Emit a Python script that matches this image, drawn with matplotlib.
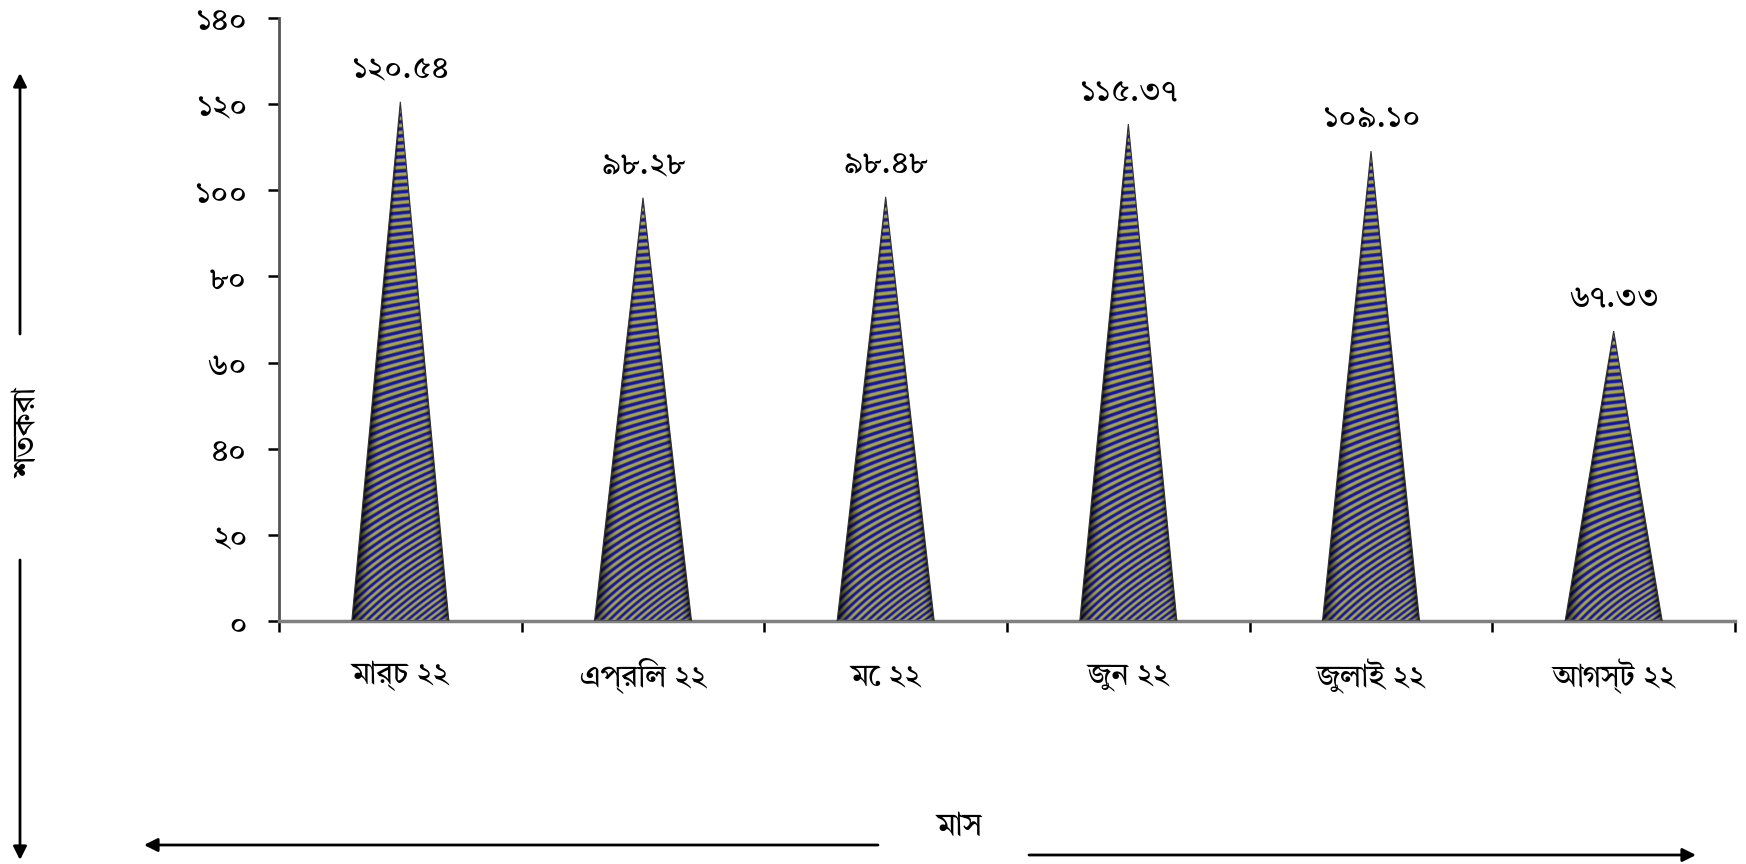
import numpy as np
import matplotlib
matplotlib.use("Agg")
from matplotlib import pyplot as plt
from matplotlib.patches import Polygon, FancyArrowPatch

months = ["মার্চ ২২", "এপ্রিল ২২", "মে ২২", "জুন ২২", "জুলাই ২২", "আগস্ট ২২"]
values = [120.54, 98.28, 98.48, 115.37, 109.10, 67.33]
value_labels = ["১২০.৫৪", "৯৮.২৮", "৯৮.৪৮", "১১৫.৩৭", "১০৯.১০", "৬৭.৩৩"]
y_ticks = [0, 20, 40, 60, 80, 100, 120, 140]
y_tick_labels = ["০", "২০", "৪০", "৬০", "৮০", "১০০", "১২০", "১৪০"]
y_title = "শতকরা"
x_title = "মাস"

W, H = 1746, 864
BLUE = np.array([0.08, 0.08, 0.66])
OLIVE = np.array([0.66, 0.66, 0.26])

plt.rcParams['font.family'] = ['Tiro Bangla', 'Noto Sans Bengali', 'DejaVu Sans']

fig = plt.figure(figsize=(W/100, H/100), dpi=100)
ax = fig.add_axes([279/W, 1-621/H, (1735-279)/W, (621-18)/H])

def cone_texture(value):
    # stripes wound round the cone: flat near the tip, diagonal near the base
    px_h = value*(621-18)/140
    half = 49.0
    ys, xs = np.mgrid[0:1:600j, -1:1:300j]
    h = ys*px_h
    local = half*(1-ys)
    dx = xs*half
    phase = h/7.0 - dx*0.115*((local/half)**2 + 0.08)
    mix = 0.5 + 0.5*np.sin(2*np.pi*phase)
    mix = np.clip((mix-0.5)*1.6+0.5, 0, 1)[..., None]
    rgb = mix*BLUE + (1-mix)*OLIVE
    u = np.clip(dx/np.maximum(local, 0.5), -1, 1)
    # left side falls off earlier than the right
    edge = np.where(u < 0, (np.abs(u)-0.62)/0.38, (np.abs(u)-0.78)/0.22)
    shade = 1 - 0.8*np.clip(edge, 0, 1)**2
    return np.clip(rgb*shade[..., None], 0, 1)

width = 0.2
for i, v in enumerate(values):
    tri = Polygon([(i-width, 0), (i, v), (i+width, 0)], closed=True, facecolor='none',
                  edgecolor='#333333', linewidth=0.8, zorder=3)
    ax.add_patch(tri)
    im = ax.imshow(cone_texture(v), extent=(i-width, i+width, 0, v), origin='lower',
                   aspect='auto', interpolation='bilinear', zorder=2)
    im.set_clip_path(tri)
    ax.text(i, v+3.5, value_labels[i], ha='center', va='bottom', fontsize=23, color='black')
ax.set_xlim(-0.5, 5.5)
ax.set_ylim(0, 140)

for s in ['top', 'right']:
    ax.spines[s].set_visible(False)
ax.spines['left'].set_color('#555555')
ax.spines['left'].set_linewidth(2)
ax.spines['bottom'].set_color('#808080')
ax.spines['bottom'].set_linewidth(2.5)

ax.set_yticks(y_ticks)
ax.set_yticklabels(y_tick_labels, fontsize=23)
ax.set_xticks(np.arange(-0.5, 6, 1))
ax.set_xticklabels([])
ax.tick_params(axis='both', direction='out', length=8, width=1.8, color='black')
ax.tick_params(axis='y', pad=15)
for i, m in enumerate(months):
    ax.text(i, -12.8, m, ha='center', va='center', fontsize=22)

fig.text(28/W, 1-433/H, y_title, rotation=90, ha='center', va='center', fontsize=23)
fig.text(960/W, 1-826/H, x_title, ha='center', va='center', fontsize=23)

def arrow(x0, y0, x1, y1):
    fig.add_artist(FancyArrowPatch(
        (x0/W, 1-y0/H), (x1/W, 1-y1/H), transform=fig.transFigure,
        arrowstyle='-|>', mutation_scale=20, color='black', linewidth=2,
        shrinkA=0, shrinkB=0))

arrow(20, 334, 20, 73)
arrow(20, 560, 20, 860)
arrow(878, 845, 144, 845)
arrow(1029, 855, 1696, 855)

fig.savefig("out.png", dpi=100)
